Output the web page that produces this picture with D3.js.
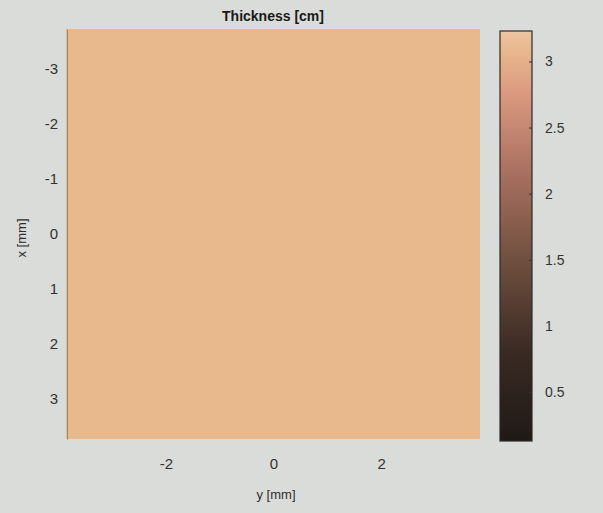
<!DOCTYPE html>
<html>
<head>
<meta charset="utf-8">
<script src="https://cdn.jsdelivr.net/npm/d3@7"></script>
<style>
  body { margin: 0; background: #d9dcd8; }
  text { font-family: "Liberation Sans", Arial, sans-serif; fill: #2e2e2e; }
</style>
</head>
<body>
<div id="chart"></div>
<script>
// grid cell centres (mm) and thickness values (cm)
const yCenters = [-3.2, -1.92, -0.64, 0.64, 1.92, 3.2];   // horizontal axis "y [mm]"
const xCenters = [-3.11, -1.87, -0.62, 0.62, 1.87, 3.11]; // vertical axis "x [mm]"
const thickness = [
  [3.1, 3.1, 3.1, 3.1, 3.1, 3.1],
  [3.1, 3.1, 3.1, 3.1, 3.1, 3.1],
  [3.1, 3.1, 3.1, 3.1, 3.1, 3.1],
  [3.1, 3.1, 3.1, 3.1, 3.1, 3.1],
  [3.1, 3.1, 3.1, 3.1, 3.1, 3.1],
  [3.1, 3.1, 3.1, 3.1, 3.1, 3.1]
];
const yTicks = [-2, 0, 2];
const xTicks = [-3, -2, -1, 0, 1, 2, 3];
const cbTicks = [0.5, 1, 1.5, 2, 2.5, 3];
const cbStops = [0.13, 0.8, 1.5, 2.2, 2.8, 3.1, 3.23];
const cbColors = ["#1f1a17", "#3a2a23", "#70503f", "#ac7262", "#de9d82", "#e9b98e", "#ecc4a2"];

const outerWidth = 603, outerHeight = 513;
const plot = {left: 67, top: 29, right: 480, bottom: 439};
const cb = {left: 500, right: 532, top: 31, bottom: 441};

const svg = d3.select("#chart").append("svg")
    .attr("width", outerWidth)
    .attr("height", outerHeight);

const xScale = d3.scaleLinear().domain([-3.84, 3.84]).range([plot.left, plot.right]);
const yScale = d3.scaleLinear().domain([-3.73, 3.73]).range([plot.top, plot.bottom]);
const color = d3.scaleLinear().domain(cbStops).range(cbColors).clamp(true);

const dy = yCenters[1] - yCenters[0], dx = xCenters[1] - xCenters[0];
const cells = [];
thickness.forEach((row, i) => row.forEach((v, j) => cells.push({x: xCenters[i], y: yCenters[j], v})));

svg.append("g")
    .attr("shape-rendering", "crispEdges")
    .selectAll("rect")
    .data(cells)
    .join("rect")
    .attr("x", d => Math.floor(xScale(d.y - dy / 2)))
    .attr("y", d => Math.floor(yScale(d.x - dx / 2)))
    .attr("width", d => Math.ceil(xScale(d.y + dy / 2)) - Math.floor(xScale(d.y - dy / 2)))
    .attr("height", d => Math.ceil(yScale(d.x + dx / 2)) - Math.floor(yScale(d.x - dx / 2)))
    .attr("fill", d => color(d.v));

// axes (MATLAB style, no visible tick marks beyond the box)
const xAxis = d3.axisBottom(xScale).tickValues(yTicks).tickSize(0).tickPadding(19).tickFormat(d => String(d));
const yAxis = d3.axisLeft(yScale).tickValues(xTicks).tickSize(0).tickPadding(9).tickFormat(d => String(d));

svg.append("g")
    .attr("transform", `translate(0,${plot.bottom})`)
    .call(xAxis)
    .call(g => g.select(".domain").remove())
    .selectAll("text").attr("font-size", 15).style("fill", "#333");

svg.append("g")
    .attr("transform", `translate(${plot.left},0)`)
    .call(yAxis)
    .call(g => g.select(".domain").attr("stroke", "#8a8a86").attr("stroke-width", 1))
    .selectAll("text").attr("font-size", 15).style("fill", "#333");

svg.append("text")
    .attr("x", 276).attr("y", 499)
    .attr("text-anchor", "middle")
    .attr("font-size", 13)
    .text("y [mm]");

svg.append("text")
    .attr("transform", "translate(26,238) rotate(-90)")
    .attr("text-anchor", "middle")
    .attr("font-size", 13)
    .text("x [mm]");

svg.append("text")
    .attr("x", 273).attr("y", 21)
    .attr("text-anchor", "middle")
    .attr("font-size", 14)
    .attr("font-weight", "bold")
    .style("fill", "#1a1a1a")
    .text("Thickness [cm]");

// colorbar
const cbScale = d3.scaleLinear().domain([0.13, 3.23]).range([cb.bottom, cb.top]);
const defs = svg.append("defs");
const grad = defs.append("linearGradient")
    .attr("id", "cbgrad")
    .attr("x1", 0).attr("y1", 1).attr("x2", 0).attr("y2", 0);
grad.selectAll("stop")
    .data(cbStops)
    .join("stop")
    .attr("offset", d => (d - 0.13) / (3.23 - 0.13))
    .attr("stop-color", (d, i) => cbColors[i]);

svg.append("rect")
    .attr("x", cb.left).attr("y", cb.top)
    .attr("width", cb.right - cb.left).attr("height", cb.bottom - cb.top)
    .attr("fill", "url(#cbgrad)")
    .attr("stroke", "#2a2a2a")
    .attr("stroke-width", 1.2);

const cbAxis = d3.axisRight(cbScale).tickValues(cbTicks).tickSizeInner(-3).tickSizeOuter(0).tickPadding(13)
    .tickFormat(d => String(d));

svg.append("g")
    .attr("transform", `translate(${cb.right},0)`)
    .call(cbAxis)
    .call(g => g.select(".domain").remove())
    .call(g => g.selectAll("line").attr("stroke", "#333"))
    .selectAll("text").attr("font-size", 14).style("fill", "#333");
</script>
</body>
</html>
